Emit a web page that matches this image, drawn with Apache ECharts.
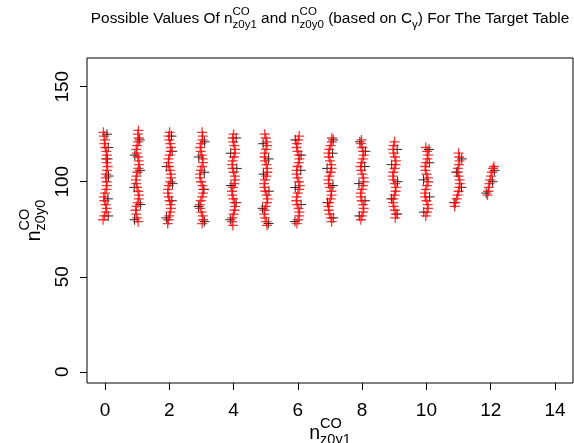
<!DOCTYPE html>
<html>
<head>
<meta charset="utf-8">
<script src="https://cdn.jsdelivr.net/npm/echarts@6/dist/echarts.min.js"></script>
<style>html,body{margin:0;padding:0;background:#fff;}#c{width:574px;height:443px;}</style>
</head>
<body>
<div id="c"></div>
<script>
// ---- data ----
const columns = [0,1,2,3,4,5,6,7,8,9,10,11,12];
const xTicks = [0,2,4,6,8,10,12,14];
const yTicks = [0,50,100,150];

const redY = [
  [80,82,84,86,88,90,92,94,96,98,100,102,104,106,108,110,112,114,116,118,120,122,124,126],
  [79,81,83,85,87,89,91,93,95,97,99,101,103,105,107,109,111,113,115,117,119,121,123,125,127],
  [78,80,82,84,86,88,90,92,94,96,98,100,102,104,106,108,110,112,114,116,118,120,122,124,126],
  [78,80,82,84,86,88,90,92,94,96,98,100,102,104,106,108,110,112,114,116,118,120,122,124,126],
  [77,79,81,83,85,87,89,91,93,95,97,99,101,103,105,107,109,111,113,115,117,119,121,123,125],
  [77,79,81,83,85,87,89,91,93,95,97,99,101,103,105,107,109,111,113,115,117,119,121,123,125],
  [78,80,82,84,86,88,90,92,94,96,98,100,102,104,106,108,110,112,114,116,118,120,122,124],
  [79,81,83,85,87,89,91,93,95,97,99,101,103,105,107,109,111,113,115,117,119,121,123],
  [80,82,84,86,88,90,92,94,96,98,100,102,104,106,108,110,112,114,116,118,120,122],
  [81,83,85,87,89,91,93,95,97,99,101,103,105,107,109,111,113,115,117,119,121],
  [82,84,86,88,90,92,94,96,98,100,102,104,106,108,110,112,114,116,118],
  [87,89,91,93,95,97,99,101,103,105,107,109,111,113,115],
  [93,95,97,99,101,103,105,107,108]
];
const redDX = [
  [-0.06,-0.02,0.03,0.05,0.02,-0.02,-0.04,0.0,0.04,0.06,0.05,0.02,0.03,0.06,0.08,0.05,0.03,0.06,0.04,0.01,-0.02,0.0,-0.03,-0.05],
  [0.03,0.0,-0.03,-0.05,-0.02,0.02,0.05,0.06,0.03,0.0,-0.03,-0.04,-0.02,0.01,0.04,0.06,0.05,0.02,-0.01,-0.03,0.0,0.03,0.05,0.02,0.04],
  [-0.05,-0.03,0.0,0.03,0.05,0.04,0.01,-0.02,-0.05,-0.04,-0.01,0.03,0.06,0.05,0.02,-0.01,-0.03,-0.02,0.01,0.04,0.05,0.03,0.0,-0.02,0.01],
  [0.02,0.05,0.04,0.0,-0.04,-0.05,-0.02,0.02,0.05,0.06,0.03,-0.01,-0.04,-0.05,-0.02,0.02,0.05,0.04,0.01,-0.02,-0.04,-0.01,0.03,0.04,0.02],
  [-0.02,-0.05,-0.04,0.0,0.03,0.05,0.03,-0.01,-0.04,-0.05,-0.02,0.02,0.05,0.04,0.0,-0.03,-0.05,-0.03,0.01,0.04,0.05,0.02,-0.01,-0.03,0.0],
  [0.04,0.02,-0.02,-0.05,-0.04,0.0,0.04,0.06,0.03,-0.01,-0.04,-0.05,-0.02,0.02,0.05,0.05,0.02,-0.02,-0.04,-0.03,0.01,0.04,0.03,0.0,-0.03],
  [-0.03,0.0,0.04,0.05,0.02,-0.02,-0.05,-0.04,0.0,0.04,0.06,0.03,-0.01,-0.04,-0.04,-0.01,0.03,0.05,0.03,-0.01,-0.04,-0.03,0.01,0.04],
  [0.05,0.03,-0.01,-0.04,-0.05,-0.02,0.02,0.05,0.04,0.0,-0.04,-0.05,-0.02,0.02,0.05,0.04,0.0,-0.03,-0.05,-0.02,0.02,0.05,0.06],
  [-0.04,-0.01,0.03,0.05,0.03,-0.01,-0.04,-0.05,-0.01,0.03,0.05,0.04,0.0,-0.03,-0.05,-0.02,0.02,0.05,0.03,0.0,-0.03,-0.02],
  [0.03,0.05,0.02,-0.02,-0.04,-0.03,0.01,0.04,0.05,0.02,-0.02,-0.05,-0.03,0.01,0.04,0.05,0.02,-0.02,-0.04,-0.02,0.01],
  [-0.02,0.02,0.05,0.04,0.0,-0.04,-0.05,-0.02,0.02,0.05,0.04,0.0,-0.03,-0.04,-0.01,0.03,0.05,0.02,-0.02],
  [-0.12,-0.1,-0.06,-0.03,0.0,0.02,0.04,0.03,0.0,-0.03,-0.02,0.01,0.03,0.02,0.0],
  [-0.1,-0.08,-0.06,-0.04,-0.02,0.01,0.04,0.07,0.1]
];
const blackY = [
  [82,91,103,112,118,125],
  [80,88,97,106,114,122],
  [81,90,99,108,116,124],
  [79,87,96,105,113,121],
  [80,89,98,107,115,123],
  [78,86,95,104,112,120],
  [79,88,97,106,114,122],
  [81,89,98,107,115,122],
  [82,90,99,108,116,121],
  [83,91,100,109,117],
  [84,92,101,110,117],
  [89,97,105,112],
  [94,100,106]
];
const blackDX = [
  [0.1,0.09,0.11,0.08,0.1,0.06],
  [-0.08,0.1,-0.09,0.09,-0.07,0.08],
  [-0.09,0.08,0.1,-0.08,0.09,0.07],
  [0.1,-0.09,0.08,0.09,-0.08,0.1],
  [-0.1,0.08,-0.08,0.1,-0.09,0.08],
  [0.09,-0.1,0.1,-0.07,0.09,-0.08],
  [-0.09,0.1,-0.08,0.09,0.1,-0.08],
  [0.1,-0.08,0.09,-0.09,0.08,0.1],
  [-0.09,0.09,-0.1,0.08,0.1,-0.07],
  [0.09,-0.09,0.1,-0.08,0.09],
  [-0.08,0.1,-0.09,0.09,0.08],
  [-0.14,0.09,-0.07,0.1],
  [-0.14,0.06,0.12]
];

// ---- build point lists ----
function pts(ys, dxs) {
  const out = [];
  columns.forEach((c, i) => {
    ys[i].forEach((y, j) => out.push([c + dxs[i][j], y]));
  });
  return out;
}
const redData = pts(redY, redDX);
const blackData = pts(blackY, blackDX);

// ---- text layout helpers (sub/superscripts) ----
const FONT = '"Liberation Sans", Arial, sans-serif';
const mctx = document.createElement('canvas').getContext('2d');
function tw(s, size) { mctx.font = size + 'px ' + FONT; return mctx.measureText(s).width; }
function txt(s, x, y, size) {
  return { type: 'text', x: x, y: y, silent: true,
    style: { text: s, font: size + 'px ' + FONT, fill: '#000', textAlign: 'left', align: 'left', textVerticalAlign: 'middle', verticalAlign: 'middle' } };
}
function layout(segs, big, small, supDy, subDy) {
  let x = 0; const els = [];
  segs.forEach(s => {
    if (s.t !== undefined) { els.push(txt(s.t, x, 0, big)); x += tw(s.t, big); }
    else if (s.stack) {
      els.push(txt(s.stack[0], x, supDy, small));
      els.push(txt(s.stack[1], x, subDy, small));
      x += Math.max(tw(s.stack[0], small), tw(s.stack[1], small));
    } else if (s.sub !== undefined) { els.push(txt(s.sub, x, subDy, small)); x += tw(s.sub, small); }
  });
  return { els: els, width: x };
}

const plotL = 87, plotT = 58, plotW = 486, plotH = 325;
const cx = plotL + plotW / 2;

const title = layout([
  { t: 'Possible Values Of n' }, { stack: ['CO', 'z0y1'] },
  { t: ' and n' }, { stack: ['CO', 'z0y0'] },
  { t: ' (based on C' }, { sub: 'γ' },
  { t: ') For The Target Table' }
], 15.4, 11.5, -7, 5.5);

const xName = layout([{ t: 'n' }, { stack: ['CO', 'z0y1'] }], 19.5, 14.5, -10, 6);
const yName = layout([{ t: 'n' }, { stack: ['CO', 'z0y0'] }], 19.5, 14.5, -10, 6);

const plusPath = 'path://M0,5L10,5M5,0L5,10';

const chart = echarts.init(document.getElementById('c'), null, { renderer: 'canvas' });
chart.setOption({
  animation: false,
  backgroundColor: '#fff',
  grid: { left: plotL, top: plotT, width: plotW, height: plotH, show: true, borderColor: '#000', borderWidth: 1, backgroundColor: 'transparent' },
  xAxis: {
    type: 'value', min: -0.56, max: 14.56,
    axisLine: { show: false, onZero: false },
    splitLine: { show: false },
    axisTick: { show: true, inside: false, length: 7, customValues: xTicks, lineStyle: { color: '#000', width: 1 } },
    axisLabel: { customValues: xTicks, fontSize: 19, color: '#000', margin: 18, fontFamily: FONT }
  },
  yAxis: {
    type: 'value', min: -5.9, max: 165.1,
    axisLine: { show: false, onZero: false },
    splitLine: { show: false },
    axisTick: { show: true, inside: false, length: 7, customValues: yTicks, lineStyle: { color: '#000', width: 1 } },
    axisLabel: { customValues: yTicks, fontSize: 19, color: '#000', margin: 15, rotate: 90, fontFamily: FONT }
  },
  series: [
    { type: 'scatter', data: blackData, symbol: plusPath, symbolSize: 10,
      itemStyle: { color: '#000', borderColor: '#000', borderWidth: 1, opacity: 0.85 } },
    { type: 'scatter', data: redData, symbol: plusPath, symbolSize: 10,
      itemStyle: { color: '#ff0000', borderColor: '#ff0000', borderWidth: 1.3, opacity: 0.8 } }
  ],
  graphic: [
    { type: 'group', x: cx - title.width / 2, y: 19, children: title.els },
    { type: 'group', x: cx - xName.width / 2, y: 434, children: xName.els },
    { type: 'group', x: 35, y: plotT + plotH / 2 + yName.width / 2, rotation: Math.PI / 2, children: yName.els }
  ]
});
</script>
</body>
</html>
